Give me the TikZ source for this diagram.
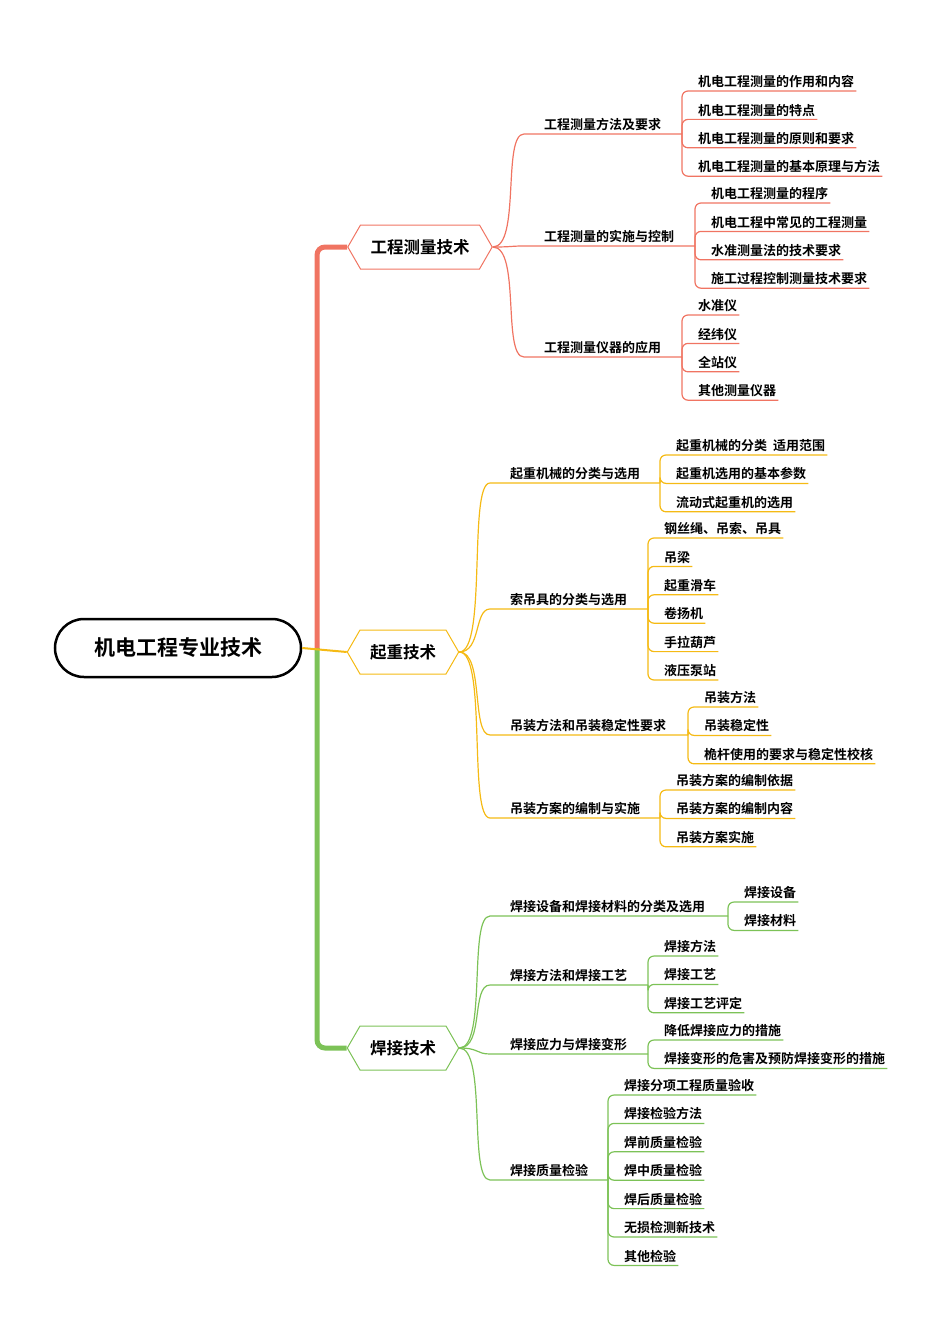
\documentclass[tikz,border=0pt]{standalone}
\usepackage{fontspec}
\setmainfont{Noto Sans CJK SC Bold}
\usetikzlibrary{shapes.symbols}
\definecolor{redc}{HTML}{F07462}
\definecolor{orac}{HTML}{F5BA14}
\definecolor{grnc}{HTML}{7CC257}
\tikzset{
  root/.style={draw,line width=2.5pt,rounded corners=29pt,minimum width=246pt,minimum height=58pt,font=\fontsize{21}{24}\selectfont},
  hexa/.style={draw=#1,line width=1pt,signal,signal to=east and west,signal pointer angle=120,minimum height=44pt,inner xsep=10pt,font=\fontsize{16.5}{19}\selectfont},
  sub/.style={anchor=south west,inner xsep=2pt,inner ysep=3pt,font=\fontsize{13}{15}\selectfont},
  leaf/.style={anchor=south west,inner xsep=2pt,inner ysep=3pt,font=\fontsize{13}{15}\selectfont},
  link/.style={draw=#1,line width=1.2pt,rounded corners=6pt},
  trunk/.style={draw=#1,line width=5pt,rounded corners=8pt}
}
% #1 colour, #2 name, #3 bracket x, #4 bracket y, #5 first leaf y, #6 list
\newcommand\leaves[6]{%
  \foreach \t [count=\i] in {#6} {
    \node[leaf] (#2\i) at (#3+14,{#5+28.4*(\i-1)}) {\t};
    \draw[link=#1] (#3,#4) |- (#2\i.south west) -- (#2\i.south east);
  }}
\begin{document}
\begin{tikzpicture}[x=1pt,y=-1pt]
\useasboundingbox (0,0) rectangle (950,1343);

\node[root] (root) at (178,648) {机电工程专业技术};
\node[hexa=redc] (h1) at (420,247) {工程测量技术};
\node[hexa=orac] (h2) at (403,652) {起重技术};
\node[hexa=grnc] (h3) at (403,1048) {焊接技术};

\draw[trunk=redc] (317,650) |- (h1.west);
\draw[trunk=grnc] (317,648) |- (h3.west);
\draw[draw=orac,line width=2pt] (root.east) -- (h2.west);

% 工程测量技术
\node[sub] (s11) at (542,134) {工程测量方法及要求};
\draw[link=redc] (h1.east) .. controls +(28,0) and +(-28,0) .. (530,134) -- (s11.south east) -- (682,134);
\leaves{redc}{l11}{682}{134}{91}{机电工程测量的作用和内容,机电工程测量的特点,机电工程测量的原则和要求,机电工程测量的基本原理与方法}
\node[sub] (s12) at (542,246) {工程测量的实施与控制};
\draw[link=redc] (h1.east) .. controls +(20,0) and +(-20,0) .. (530,246) -- (s12.south east) -- (695,246);
\leaves{redc}{l12}{695}{246}{203}{机电工程测量的程序,机电工程中常见的工程测量,水准测量法的技术要求,施工过程控制测量技术要求}
\node[sub] (s13) at (542,357) {工程测量仪器的应用};
\draw[link=redc] (h1.east) .. controls +(28,0) and +(-28,0) .. (530,357) -- (s13.south east) -- (682,357);
\leaves{redc}{l13}{682}{357}{315}{水准仪,经纬仪,全站仪,其他测量仪器}

% 起重技术
\node[sub] (s21) at (508,483) {起重机械的分类与选用};
\draw[link=orac] (h2.east) .. controls +(28,0) and +(-28,0) .. (496,483) -- (s21.south east) -- (660,483);
\leaves{orac}{l21}{660}{483}{455}{起重机械的分类\ \ 适用范围,起重机选用的基本参数,流动式起重机的选用}
\node[sub] (s22) at (508,609) {索吊具的分类与选用};
\draw[link=orac] (h2.east) .. controls +(22,0) and +(-22,0) .. (496,609) -- (s22.south east) -- (648,609);
\leaves{orac}{l22}{648}{609}{538}{钢丝绳、吊索、吊具,吊梁,起重滑车,卷扬机,手拉葫芦,液压泵站}
\node[sub] (s23) at (508,735) {吊装方法和吊装稳定性要求};
\draw[link=orac] (h2.east) .. controls +(25,0) and +(-25,0) .. (496,735) -- (s23.south east) -- (688,735);
\leaves{orac}{l23}{688}{735}{707}{吊装方法,吊装稳定性,桅杆使用的要求与稳定性校核}
\node[sub] (s24) at (508,818) {吊装方案的编制与实施};
\draw[link=orac] (h2.east) .. controls +(28,0) and +(-28,0) .. (496,818) -- (s24.south east) -- (660,818);
\leaves{orac}{l24}{660}{818}{790}{吊装方案的编制依据,吊装方案的编制内容,吊装方案实施}

% 焊接技术
\node[sub] (s31) at (508,916) {焊接设备和焊接材料的分类及选用};
\draw[link=grnc] (h3.east) .. controls +(28,0) and +(-28,0) .. (496,916) -- (s31.south east) -- (728,916);
\leaves{grnc}{l31}{728}{916}{902}{焊接设备,焊接材料}
\node[sub] (s32) at (508,985) {焊接方法和焊接工艺};
\draw[link=grnc] (h3.east) .. controls +(25,0) and +(-25,0) .. (496,985) -- (s32.south east) -- (648,985);
\leaves{grnc}{l32}{648}{985}{956}{焊接方法,焊接工艺,焊接工艺评定}
\node[sub] (s33) at (508,1054) {焊接应力与焊接变形};
\draw[link=grnc] (h3.east) .. controls +(20,0) and +(-20,0) .. (496,1054) -- (s33.south east) -- (648,1054);
\leaves{grnc}{l33}{648}{1054}{1040}{降低焊接应力的措施,焊接变形的危害及预防焊接变形的措施}
\node[sub] (s34) at (508,1180) {焊接质量检验};
\draw[link=grnc] (h3.east) .. controls +(28,0) and +(-28,0) .. (496,1180) -- (s34.south east) -- (608,1180);
\leaves{grnc}{l34}{608}{1180}{1095}{焊接分项工程质量验收,焊接检验方法,焊前质量检验,焊中质量检验,焊后质量检验,无损检测新技术,其他检验}
\end{tikzpicture}
\end{document}
